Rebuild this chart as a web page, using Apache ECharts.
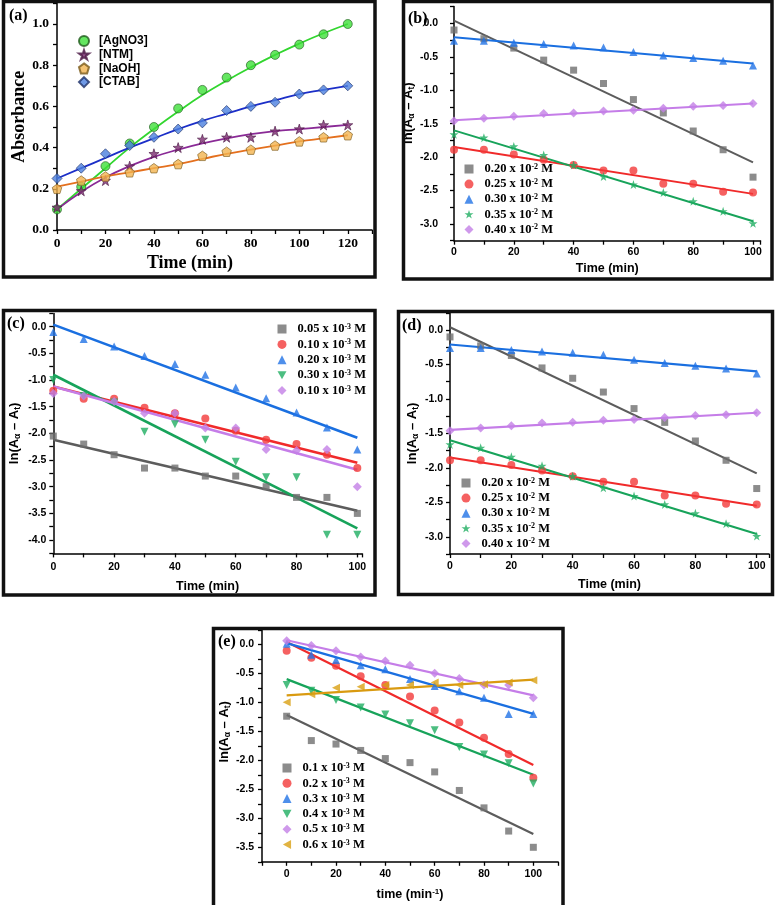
<!DOCTYPE html>
<html><head><meta charset="utf-8">
<script src="https://cdn.jsdelivr.net/npm/echarts@6/dist/echarts.min.js"></script>
<style>html,body{margin:0;padding:0;background:#fff}#c{width:777px;height:905px}</style>
</head><body><div id="c"></div>
<script>
// ---------- Panel (a) ----------
const timeA = [0,10,20,30,40,50,60,70,80,90,100,110,120];
const agno3 = [0.10,0.21,0.31,0.42,0.50,0.59,0.68,0.74,0.80,0.85,0.90,0.95,1.00];
const ntm   = [0.11,0.19,0.24,0.31,0.37,0.40,0.44,0.45,0.45,0.48,0.49,0.51,0.51];
const naoh  = [0.20,0.24,0.26,0.28,0.30,0.32,0.36,0.38,0.39,0.41,0.43,0.45,0.46];
const ctab  = [0.25,0.30,0.37,0.41,0.45,0.49,0.52,0.58,0.60,0.62,0.66,0.68,0.70];
const agno3Fit = [0.10,0.20,0.30,0.40,0.49,0.575,0.655,0.725,0.79,0.85,0.905,0.955,1.00];
const ntmFit   = [0.10,0.185,0.255,0.31,0.355,0.39,0.42,0.445,0.465,0.48,0.49,0.50,0.51];
const naohFit  = [0.21,0.235,0.26,0.28,0.30,0.32,0.345,0.37,0.39,0.41,0.43,0.445,0.46];
const ctabFit  = [0.25,0.30,0.35,0.40,0.445,0.49,0.53,0.565,0.60,0.63,0.66,0.68,0.70];
const legendA = ['[AgNO3]','[NTM]','[NaOH]','[CTAB]'];

// ---------- Panels (b) and (d) ----------
const timeK = [0,10,20,30,40,50,60,70,80,90,100];
const fitX = [0,100];
const concB = ['0.20','0.25','0.30','0.35','0.40'];
const expB = '-2';
const b020 = [-0.10,-0.23,-0.37,-0.55,-0.70,-0.90,-1.14,-1.34,-1.61,-1.89,-2.30];
const b025 = [-1.89,-1.89,-1.96,-2.04,-2.12,-2.20,-2.20,-2.40,-2.40,-2.52,-2.53];
const b030 = [-0.26,-0.26,-0.29,-0.31,-0.33,-0.36,-0.43,-0.48,-0.52,-0.56,-0.63];
const b035 = [-1.66,-1.71,-1.84,-1.97,-2.12,-2.29,-2.41,-2.53,-2.66,-2.81,-2.99];
const b040 = [-1.46,-1.42,-1.39,-1.35,-1.34,-1.31,-1.30,-1.27,-1.24,-1.23,-1.20];
const b020Fit = [0.04,-2.08];
const b025Fit = [-1.85,-2.55];
const b030Fit = [-0.21,-0.60];
const b035Fit = [-1.60,-2.96];
const b040Fit = [-1.45,-1.20];

// ---------- Panel (c) ----------
const concC = ['0.05','0.10','0.20','0.30','0.10'];
const expC = '-3';
const c005 = [-2.05,-2.20,-2.40,-2.65,-2.65,-2.80,-2.80,-3.00,-3.20,-3.20,-3.50];
const c010 = [-1.20,-1.35,-1.35,-1.52,-1.62,-1.72,-1.95,-2.12,-2.20,-2.40,-2.65];
const c020 = [-0.10,-0.23,-0.37,-0.55,-0.70,-0.90,-1.14,-1.34,-1.61,-1.89,-2.30];
const c030 = [-1.00,-1.30,-1.42,-1.97,-1.83,-2.12,-2.53,-2.82,-2.82,-3.90,-3.90];
const c010b = [-1.25,-1.30,-1.40,-1.62,-1.62,-1.90,-1.90,-2.30,-2.32,-2.30,-3.00];
const c005Fit = [-2.12,-3.45];
const c010Fit = [-1.12,-2.55];
const c020Fit = [0.04,-2.08];
const c030Fit = [-0.90,-3.78];
const c010bFit = [-1.12,-2.68];

// ---------- Panel (e) ----------
const concE = ['0.1','0.2','0.3','0.4','0.5','0.6'];
const expE = '-3';
const e01 = [-1.24,-1.66,-1.72,-1.83,-1.97,-2.04,-2.20,-2.52,-2.82,-3.22,-3.50];
const e02 = [-0.11,-0.23,-0.37,-0.55,-0.70,-0.90,-1.14,-1.35,-1.61,-1.89,-2.30];
const e03 = [0.01,-0.18,-0.27,-0.36,-0.43,-0.60,-0.72,-0.81,-0.92,-1.20,-1.20];
const e04 = [-0.70,-0.80,-0.96,-1.09,-1.21,-1.36,-1.48,-1.77,-1.90,-2.05,-2.40];
const e05 = [0.06,-0.02,-0.11,-0.22,-0.29,-0.36,-0.50,-0.59,-0.70,-0.70,-0.92];
const e06 = [-1.00,-0.86,-0.75,-0.73,-0.70,-0.70,-0.66,-0.70,-0.69,-0.66,-0.62];
const e01Fit = [-1.22,-3.27];
const e02Fit = [0.04,-2.08];
const e03Fit = [0.02,-1.20];
const e04Fit = [-0.60,-2.25];
const e05Fit = [0.07,-0.88];
const e06Fit = [-0.88,-0.61];

// ---------- styling helpers ----------
const STAR = 'path://M5,0L6.2,3.6L10,3.6L6.9,5.9L8.1,9.5L5,7.3L1.9,9.5L3.1,5.9L0,3.6L3.8,3.6Z';
const PENT = 'path://M5,0L10,3.7L8.1,10L1.9,10L0,3.7Z';
const DOWN = 'path://M0,0L10,0L5,9Z';
const LEFT = 'path://M0,5L9,0L9,10Z';
const SANS = 'Liberation Sans, Arial, sans-serif';
const SERIF = 'Liberation Serif, Times New Roman, serif';

const C = {gray:'#6f6f6f', grayL:'#5c5c5c', red:'#f23a3a', redL:'#f02a2a', blue:'#2273e6', blueL:'#1a6fe0',
           green:'#1fae62', greenL:'#17a35a', purple:'#c37fe6', purpleL:'#c57de8', orange:'#d9a013', orangeL:'#d99a10'};

function pair(xarr, yarr){ return xarr.map((x,i)=>[x,yarr[i]]); }
function isMult(v, s){ return Math.abs(v/s - Math.round(v/s)) < 1e-6; }

function xAxisK(grid, min, max, nameGap, labelMargin, name){
  return {type:'value', gridIndex:grid, min:min, max:max, interval:10,
    axisLine:{show:true, onZero:false, lineStyle:{color:'#000', width:1.5}},
    axisTick:{show:true, inside:false, length:4, lineStyle:{color:'#000', width:1.3}},
    splitLine:{show:false},
    axisLabel:{margin:labelMargin, color:'#000', fontFamily:SANS, fontWeight:'bold', fontSize:10.5,
      showMaxLabel:true, formatter:v=> (isMult(v,20) && v>=0 && v<=100) ? String(v) : ''},
    name:name, nameLocation:'middle', nameGap:nameGap,
    nameTextStyle:{color:'#000', fontFamily:SANS, fontWeight:'bold', fontSize:12.5,
      rich:{n:{fontFamily:SANS, fontWeight:'bold', fontSize:12.5, color:'#000'},
            sup:{fontFamily:SANS, fontWeight:'bold', fontSize:8, color:'#000', verticalAlign:'top', padding:[0,0,6,0]}}}
  };
}
function yAxisK(grid, min, max, nameGap, labelMargin, pad){
  return {type:'value', gridIndex:grid, min:min, max:max, interval:0.25,
    axisLine:{show:true, onZero:false, lineStyle:{color:'#000', width:1.5}},
    axisTick:{show:true, inside:false, length:4, lineStyle:{color:'#000', width:1.3}},
    splitLine:{show:false},
    axisLabel:{margin:labelMargin, color:'#000', fontFamily:SANS, fontWeight:'bold', fontSize:10.5,
      formatter:v=> (isMult(v,0.5) && v<=0.01) ? v.toFixed(1) : ''},
    name:'{n|ln(A}{s|α}{n| – A}{s|t}{n|)}', nameLocation:'middle', nameGap:nameGap,
    nameTextStyle:{padding:pad, rich:{
      n:{fontFamily:SANS, fontWeight:'bold', fontSize:13, color:'#000'},
      s:{fontFamily:SANS, fontWeight:'bold', fontSize:8.5, color:'#000', verticalAlign:'bottom', padding:[6,0,0,0]}}}
  };
}

const series = [];
const nameMap = {};

function addKSet(prefix, xi, list, lw){
  const names = [];
  list.forEach((s, k)=>{
    const nm = prefix + k;
    names.push(nm);
    nameMap[nm] = s[6] + ' x 10{sup|' + s[7] + '} M';
    series.push({type:'line', xAxisIndex:xi, yAxisIndex:xi, data:pair(fitX, s[1]), showSymbol:false, symbol:'none',
      lineStyle:{color:s[3], width:lw}, z:3, silent:true});
    series.push({type:'scatter', name:nm, xAxisIndex:xi, yAxisIndex:xi, data:pair(timeK, s[0]),
      symbol:s[4], symbolSize:s[5], itemStyle:{color:s[2]}, z:4});
  });
  return names;
}

function legendK(names, left, top, gap){
  return {show:true, orient:'vertical', left:left, top:top, data:names, itemWidth:9, itemHeight:9, itemGap:gap,
    selectedMode:false,
    formatter:n=>'{t|' + nameMap[n].replace('{sup|','}{sup|').replace('} M','}{t| M}'),
    textStyle:{padding:[0,0,0,6], rich:{
      t:{fontFamily:SERIF, fontWeight:'bold', fontSize:12.5, color:'#000', lineHeight:12},
      sup:{fontFamily:SERIF, fontWeight:'bold', fontSize:8, color:'#000', verticalAlign:'top', lineHeight:12, padding:[0,0,5,0]}}}};
}

// ----- panel (a) series -----
const aDefs = [
  [agno3, agno3Fit, '#3fe03a', '#1f5a1c', '#32d62f', 'circle', 9, legendA[0]],
  [ntm,   ntmFit,   '#7d2c72', '#4a1844', '#8a2a96', STAR, 10, legendA[1]],
  [naoh,  naohFit,  '#f2b450', '#7a5a1a', '#e4701e', PENT, 9.5, legendA[2]],
  [ctab,  ctabFit,  '#4b7fdf', '#1d2f66', '#1c2fc8', 'diamond', 10, legendA[3]]
];
aDefs.forEach(d=>{
  series.push({type:'line', xAxisIndex:0, yAxisIndex:0, data:pair(timeA, d[1]), smooth:true, showSymbol:false, symbol:'none',
    lineStyle:{color:d[4], width:1.8}, z:3, silent:true});
  series.push({type:'scatter', name:d[7], xAxisIndex:0, yAxisIndex:0, data:pair(timeA, d[0]), symbol:d[5], symbolSize:d[6],
    itemStyle:{color:d[2], borderColor:d[3], borderWidth:0.8}, z:4});
});

const bList = [
  [b020, b020Fit, C.gray, C.grayL, 'rect', 7, concB[0], expB],
  [b025, b025Fit, C.red, C.redL, 'circle', 8, concB[1], expB],
  [b030, b030Fit, C.blue, C.blueL, 'triangle', 8, concB[2], expB],
  [b035, b035Fit, C.green, C.greenL, STAR, 9, concB[3], expB],
  [b040, b040Fit, C.purple, C.purpleL, 'diamond', 9, concB[4], expB]
];
const bNames = addKSet('b', 1, bList, 2);
const cList = [
  [c005, c005Fit, C.gray, C.grayL, 'rect', 7, concC[0], expC],
  [c010, c010Fit, C.red, C.redL, 'circle', 8, concC[1], expC],
  [c020, c020Fit, C.blue, C.blueL, 'triangle', 8, concC[2], expC],
  [c030, c030Fit, C.green, C.greenL, DOWN, 8, concC[3], expC],
  [c010b, c010bFit, C.purple, C.purpleL, 'diamond', 9, concC[4], expC]
];
const cNames = addKSet('c', 2, cList, 2.6);
const dList = bList.map(r=>r.slice());
const dNames = addKSet('d', 3, dList, 2.2);
const eList = [
  [e01, e01Fit, C.gray, C.grayL, 'rect', 7, concE[0], expE],
  [e02, e02Fit, C.red, C.redL, 'circle', 8, concE[1], expE],
  [e03, e03Fit, C.blue, C.blueL, 'triangle', 8, concE[2], expE],
  [e04, e04Fit, C.green, C.greenL, DOWN, 8, concE[3], expE],
  [e05, e05Fit, C.purple, C.purpleL, 'diamond', 9, concE[4], expE],
  [e06, e06Fit, C.orange, C.orangeL, LEFT, 8, concE[5], expE]
];
const eNames = addKSet('e', 4, eList, 2.2);

const serifBold = {fontFamily:SERIF, fontWeight:'bold', color:'#000'};

const option = {
  animation:false,
  backgroundColor:'#fff',
  grid:[
    {left:57, top:3.4, width:315, height:226.6},
    {left:454, top:6.6, width:306.5, height:234.1},
    {left:53.3, top:313.4, width:308.6, height:240},
    {left:450, top:312.8, width:319, height:241.2},
    {left:262, top:629.8, width:296, height:232}
  ],
  xAxis:[
    {type:'value', gridIndex:0, min:0, max:130, interval:10,
      axisLine:{show:true, lineStyle:{color:'#000', width:1.5}},
      axisTick:{show:true, inside:false, length:4, lineStyle:{color:'#000', width:1.3}},
      splitLine:{show:false},
      axisLabel:{margin:7, fontSize:13.5, ...serifBold, formatter:v=> (isMult(v,20) && v<=120) ? String(v) : ''},
      name:'Time (min)', nameLocation:'middle', nameGap:24,
      nameTextStyle:{fontSize:18, ...serifBold, padding:[0,49,0,0]}},
    xAxisK(1, 0, 102.5, 21, 6, 'Time (min)'),
    xAxisK(2, 0, 101.5, 27, 8, 'Time (min)'),
    xAxisK(3, 0, 104, 24, 7, 'Time (min)'),
    xAxisK(4, -10, 110, 26, 7, '{n|time (min}{sup|-1}{n|)}')
  ],
  yAxis:[
    {type:'value', gridIndex:0, min:0, max:1.1, interval:0.1,
      axisLine:{show:true, lineStyle:{color:'#000', width:1.5}},
      axisTick:{show:true, inside:false, length:4, lineStyle:{color:'#000', width:1.3}},
      splitLine:{show:false},
      axisLabel:{margin:8, fontSize:13.5, ...serifBold, formatter:v=> (isMult(v,0.2) && v<=1.0001) ? v.toFixed(1) : ''},
      name:'Absorbance', nameLocation:'middle', nameGap:28,
      nameTextStyle:{fontSize:18, ...serifBold}},
    yAxisK(1, -3.25, 0.25, 28, 16, [0,0,0,21]),
    yAxisK(2, -4.25, 0.25, 31, 7, [0,0,0,0]),
    yAxisK(3, -3.25, 0.25, 30, 7, [0,0,0,0]),
    yAxisK(4, -3.75, 0.25, 27, 8, [0,0,0,28])
  ],
  legend:[
    {show:true, orient:'vertical', left:73, top:30, data:legendA, itemWidth:10, itemHeight:10, itemGap:1.7, selectedMode:false,
      textStyle:{fontFamily:SANS, fontWeight:'bold', fontSize:12, color:'#000', lineHeight:12, padding:[0,0,0,5]}},
    legendK(bNames, 459.5, 157.5, 1.6),
    legendK(cNames, 272.5, 317.5, 1.9),
    legendK(dNames, 456.5, 471.5, 1.6),
    legendK(eNames, 277.5, 756.5, 1.8)
  ],
  series:series,
  graphic:[
    {type:'rect', shape:{x:3.5, y:1.5, width:371.5, height:275.5}, style:{fill:'none', stroke:'#111', lineWidth:3.5}, z:100},
    {type:'rect', shape:{x:403.5, y:1.5, width:368.5, height:277.5}, style:{fill:'none', stroke:'#111', lineWidth:3.5}, z:100},
    {type:'rect', shape:{x:3.5, y:310.5, width:371.5, height:284.5}, style:{fill:'none', stroke:'#111', lineWidth:3.5}, z:100},
    {type:'rect', shape:{x:398.5, y:311.5, width:374, height:283}, style:{fill:'none', stroke:'#111', lineWidth:3.5}, z:100},
    {type:'rect', shape:{x:213.5, y:628.5, width:349.5, height:290}, style:{fill:'none', stroke:'#111', lineWidth:3.5}, z:100},
    {type:'text', left:9, top:8, style:{text:'(a)', font:'bold 16px Liberation Serif, serif', fill:'#000'}, z:100},
    {type:'text', left:408, top:11, style:{text:'(b)', font:'bold 16px Liberation Serif, serif', fill:'#000'}, z:100},
    {type:'text', left:7, top:316, style:{text:'(c)', font:'bold 16px Liberation Serif, serif', fill:'#000'}, z:100},
    {type:'text', left:402, top:318, style:{text:'(d)', font:'bold 16px Liberation Serif, serif', fill:'#000'}, z:100},
    {type:'text', left:218, top:634, style:{text:'(e)', font:'bold 16px Liberation Serif, serif', fill:'#000'}, z:100}
  ]
};
const chart = echarts.init(document.getElementById('c'), null, {renderer:'canvas'});
chart.setOption(option);
</script>
</body></html>
